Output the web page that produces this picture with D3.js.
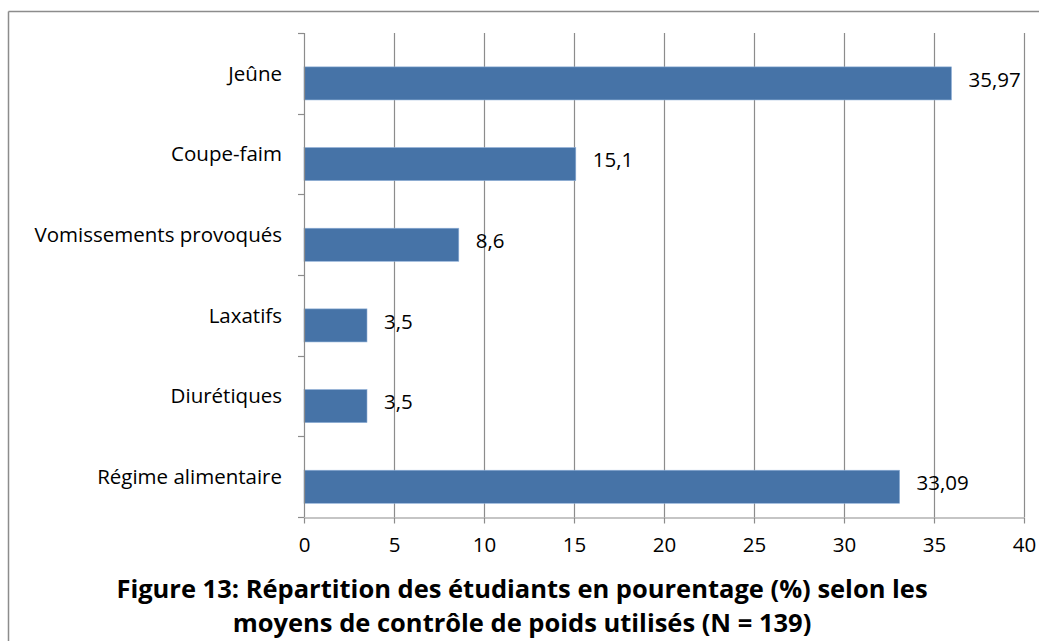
<!DOCTYPE html>
<html>
<head>
<meta charset="utf-8">
<script src="https://d3js.org/d3.v7.min.js"></script>
<style>
  body { margin: 0; background: #fff; }
  text { font-family: "Open Sans", Lato, sans-serif; fill: #000; }
</style>
</head>
<body>
<svg id="chart" width="1039" height="641"></svg>
<script>

// data, top to bottom
var categories = ["Jeûne", "Coupe-faim", "Vomissements provoqués", "Laxatifs", "Diurétiques", "Régime alimentaire"];
var values = [35.97, 15.1, 8.6, 3.5, 3.5, 33.09];
var valueLabels = ["35,97", "15,1", "8,6", "3,5", "3,5", "33,09"];
var xTicks = [0, 5, 10, 15, 20, 25, 30, 35, 40];
var titleLines = ["Figure 13: Répartition des étudiants en pourentage (%) selon les",
                  "moyens de contrôle de poids utilisés (N = 139)"];

var svg = d3.select("#chart");

// frame (top and left only, like the cropped figure)
svg.append("line").attr("x1", 8.5).attr("x2", 1039).attr("y1", 11.5).attr("y2", 11.5)
   .attr("stroke", "#8c8c8c").attr("stroke-width", 1.5);
svg.append("line").attr("x1", 8.5).attr("x2", 8.5).attr("y1", 11.5).attr("y2", 641)
   .attr("stroke", "#8c8c8c").attr("stroke-width", 1.5);

var pLeft = 304, pRight = 1024, pTop = 33, pBottom = 517;

var x = d3.scaleLinear().domain([0, 40]).range([pLeft, pRight]);
var y = d3.scaleBand().domain(categories).range([pTop, pBottom]);

// vertical gridlines
svg.append("g").selectAll("line")
  .data(xTicks.slice(1))
  .join("line")
    .attr("x1", d => Math.round(x(d)) + 0.5)
    .attr("x2", d => Math.round(x(d)) + 0.5)
    .attr("y1", pTop)
    .attr("y2", pBottom)
    .attr("stroke", "#8c8c8c")
    .attr("stroke-width", 1.2);

// bars (sit a bit below the band centre, as in the original)
svg.append("g").selectAll("rect")
  .data(categories)
  .join("rect")
    .attr("x", pLeft)
    .attr("y", d => y(d) + y.bandwidth() * 0.42)
    .attr("width", (d, i) => x(values[i]) - pLeft)
    .attr("height", y.bandwidth() * 0.41)
    .attr("fill", "#4673a7")
    .attr("stroke", "#8fb0d8")
    .attr("stroke-width", 0.6);

// x axis
var xAxis = svg.append("g")
    .attr("transform", "translate(0," + (pBottom + 0.5) + ")")
    .call(d3.axisBottom(x).tickValues(xTicks).tickSize(6).tickSizeOuter(0).tickPadding(14));
xAxis.select(".domain").attr("stroke", "#8c8c8c").attr("stroke-width", 1.2);
xAxis.selectAll(".tick line").attr("stroke", "#8c8c8c").attr("stroke-width", 1.2);
xAxis.selectAll(".tick text").style("font-size", "20.5px").style("font-family", "'Open Sans', sans-serif").attr("fill", "#000");

// y axis: ticks between categories, labels at band centres
var yAxis = svg.append("g");
yAxis.append("line")
    .attr("x1", pLeft + 0.5).attr("x2", pLeft + 0.5)
    .attr("y1", pTop).attr("y2", pBottom)
    .attr("stroke", "#8c8c8c").attr("stroke-width", 1.2);
yAxis.selectAll(".ytick")
  .data(d3.range(categories.length + 1))
  .join("line")
    .attr("class", "ytick")
    .attr("x1", pLeft - 6).attr("x2", pLeft)
    .attr("y1", i => Math.round(pTop + i * y.bandwidth()) + 0.5)
    .attr("y2", i => Math.round(pTop + i * y.bandwidth()) + 0.5)
    .attr("stroke", "#8c8c8c").attr("stroke-width", 1.2);
yAxis.selectAll("text")
  .data(categories)
  .join("text")
    .attr("x", pLeft - 22)
    .attr("y", d => y(d) + y.bandwidth() / 2)
    .attr("dy", "0.35em")
    .attr("text-anchor", "end")
    .style("font-size", "20.5px")
    .text(d => d);

// value labels
svg.append("g").selectAll("text")
  .data(categories)
  .join("text")
    .attr("x", (d, i) => x(values[i]) + 17)
    .attr("y", d => y(d) + y.bandwidth() / 2 + 6)
    .attr("dy", "0.35em")
    .style("font-size", "20.5px")
    .text((d, i) => valueLabels[i]);

// caption
svg.append("g").selectAll("text")
  .data(titleLines)
  .join("text")
    .attr("x", 522)
    .attr("y", (d, i) => 598 + i * 34)
    .attr("text-anchor", "middle")
    .style("font-size", "25.5px")
    .style("font-weight", "bold")
    .text(d => d);

</script>
</body>
</html>
